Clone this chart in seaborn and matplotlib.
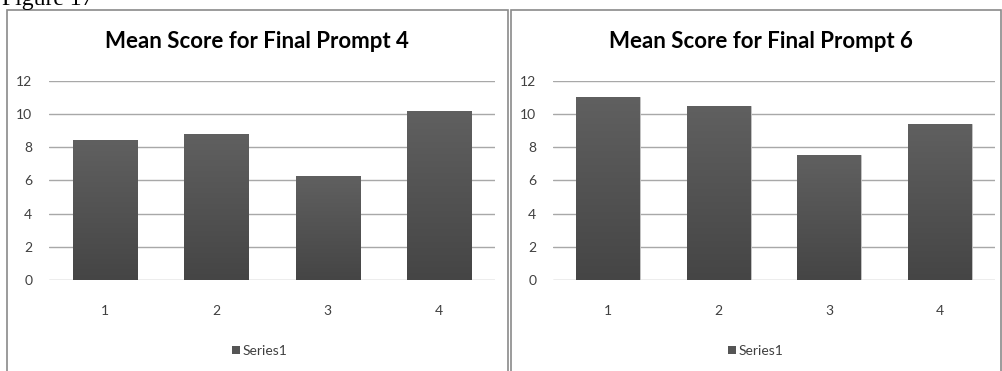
import numpy as np
import matplotlib
matplotlib.use("Agg")
import matplotlib.pyplot as plt
from matplotlib.patches import Rectangle, Patch
import seaborn as sns

# Data
categories = ["1", "2", "3", "4"]
prompt4_scores = [8.4, 8.8, 6.25, 10.2]
prompt6_scores = [11.0, 10.5, 7.5, 9.4]
titles = ["Mean Score for Final Prompt 4", "Mean Score for Final Prompt 6"]
y_ticks = [0, 2, 4, 6, 8, 10, 12]
series_name = "Series1"

sns.set_theme(style="white")
plt.rcParams["font.family"] = ["Lato", "DejaVu Sans"]

W, H = 1002, 371
fig = plt.figure(figsize=(W / 100, H / 100), dpi=100)


def fx(px):
    return px / W


def fy(py):
    return 1 - py / H


# Caption above the panels (partly cut by the top edge)
fig.text(fx(2), fy(5), "Figure 17", family="Liberation Serif", fontsize=17,
         ha="left", va="baseline", color="black")

panels = [
    dict(box=(7, 10, 508), plot=(49, 495), scores=prompt4_scores, title=titles[0],
         title_x=257, legend_x=260),
    dict(box=(511, 10, 1001), plot=(553, 995), scores=prompt6_scores, title=titles[1],
         title_x=761, legend_x=756),
]

y_top_px, y_zero_px = 80.7, 280.0
grad = np.linspace(0, 1, 256).reshape(-1, 1)
cmap = matplotlib.colors.LinearSegmentedColormap.from_list("bar", ["#454545", "#606060"])

for p in panels:
    bx0, by0, bx1 = p["box"]
    # Panel frame
    fig.patches.append(Rectangle((fx(bx0), fy(H + 5)), fx(bx1 - bx0), fy(by0) - fy(H + 5),
                                 transform=fig.transFigure, fill=False,
                                 edgecolor="#8a8a8a", linewidth=1.2, zorder=0))
    px0, px1 = p["plot"]
    ax = fig.add_axes([fx(px0), fy(y_zero_px), fx(px1 - px0), fy(y_top_px) - fy(y_zero_px)])
    sns.barplot(x=categories, y=p["scores"], ax=ax, color="#555555", width=0.577,
                saturation=1, zorder=3)
    # Vertical shading inside each bar
    for bar in ax.patches:
        x0, y0 = bar.get_x(), bar.get_y()
        w, h = bar.get_width(), bar.get_height()
        bar.set_edgecolor("#c8c8c8")
        bar.set_linewidth(0.6)
        im = ax.imshow(grad, extent=[x0, x0 + w, y0, y0 + h], origin="lower",
                       cmap=cmap, aspect="auto", zorder=3.5)
        im.set_clip_path(bar)
    ax.set_xlim(-0.5, 3.5)
    ax.set_ylim(0, 12)
    ax.set_yticks(y_ticks)
    ax.set_yticklabels([str(t) for t in y_ticks])
    ax.yaxis.grid(True, color="#a8a8a8", linewidth=1.0, zorder=0)
    ax.set_axisbelow(True)
    for s in ax.spines.values():
        s.set_visible(False)
    ax.tick_params(axis="y", length=0, pad=12, labelsize=10, labelcolor="#404040")
    ax.tick_params(axis="x", length=0, pad=18, labelsize=10, labelcolor="#404040")
    ax.set_xlabel("")
    ax.set_ylabel("")
    ax.patch.set_alpha(0)

    fig.text(fx(p["title_x"]), fy(48), p["title"], ha="center", va="baseline",
             fontsize=16, fontweight="bold", color="black")
    fig.legend(handles=[Patch(facecolor="#555555", edgecolor="none", label=series_name)],
               loc="center", bbox_to_anchor=(fx(p["legend_x"]), fy(351)), frameon=False,
               fontsize=10, handlelength=0.58, handleheight=0.58, handletextpad=0.2,
               labelcolor="#404040")

fig.savefig("out.png", dpi=100, facecolor="white")
